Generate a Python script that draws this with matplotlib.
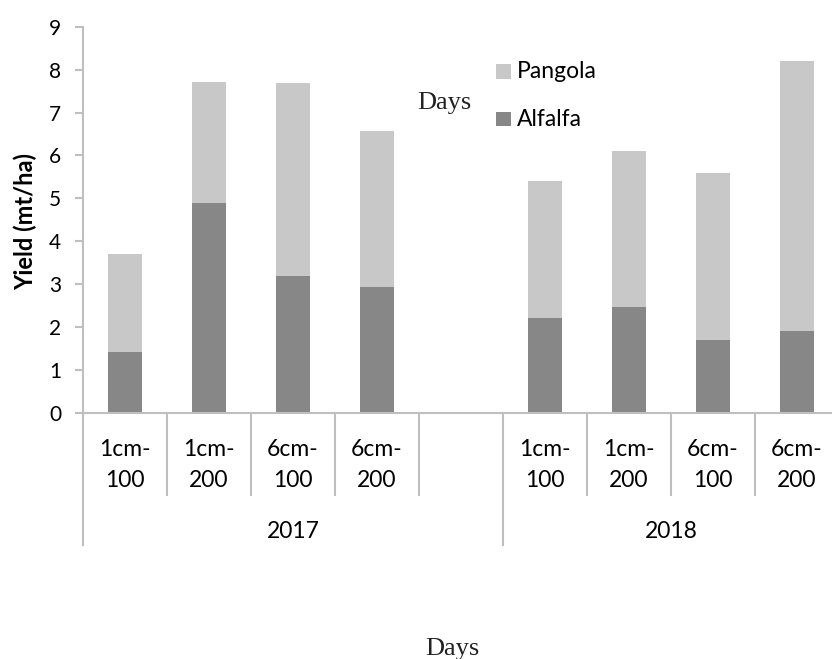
import matplotlib
matplotlib.use("Agg")
import matplotlib.pyplot as plt
from matplotlib.patches import Rectangle
from matplotlib.lines import Line2D
from matplotlib.transforms import blended_transform_factory

# Yield data (mt/ha)
years = ["2017", "2018"]
treatments = ["1cm-100", "1cm-200", "6cm-100", "6cm-200"]
alfalfa_2017 = [1.43, 4.89, 3.19, 2.94]
pangola_2017 = [2.27, 2.82, 4.50, 3.64]
alfalfa_2018 = [2.21, 2.46, 1.69, 1.91]
pangola_2018 = [3.20, 3.65, 3.90, 6.30]
yticks = list(range(0, 10))

PANGOLA_C = "#C8C8C8"
ALFALFA_C = "#878787"
AXIS_C = "#BFBFBF"

plt.rcParams["font.family"] = ["Lato", "DejaVu Sans"]

W, H = 832, 659
fig = plt.figure(figsize=(W / 100, H / 100), dpi=100)

def fx(px):
    return px / W

def fy(py):
    return 1 - py / H

# slot layout: 2017 group = 4 bars + one empty slot, 2018 group = 4 bars
x0, y_top = 83, 26.7
y0 = 413
ax = fig.add_axes([fx(x0), fy(y0), (839 - x0) / W, (y0 - y_top) / H])

x2017 = [0, 1, 2, 3]
x2018 = [5, 6, 7, 8]
bw = 0.40

ax.bar(x2017, alfalfa_2017, width=bw, color=ALFALFA_C, label="Alfalfa")
ax.bar(x2017, pangola_2017, width=bw, bottom=alfalfa_2017, color=PANGOLA_C, label="Pangola")
ax.bar(x2018, alfalfa_2018, width=bw, color=ALFALFA_C)
ax.bar(x2018, pangola_2018, width=bw, bottom=alfalfa_2018, color=PANGOLA_C)

ax.set_xlim(-0.5, 8.5)
ax.set_ylim(0, 9)
ax.set_yticks(yticks)
ax.set_xticks([])

for s in ["top", "right"]:
    ax.spines[s].set_visible(False)
for s in ["left", "bottom"]:
    ax.spines[s].set_color(AXIS_C)
    ax.spines[s].set_linewidth(1.5)

ax.tick_params(axis="y", direction="out", length=5.8, width=1.5, color=AXIS_C,
               labelsize=15, pad=10, labelcolor="black")

ax.set_ylabel("Yield (mt/ha)", fontsize=17, fontweight="bold")
ax.yaxis.label.set_va("center")
ax.yaxis.set_label_coords((25 - x0) / (839 - x0), (y0 - 222) / (y0 - y_top))

# multi-level category axis
tr = blended_transform_factory(ax.transData, fig.transFigure)
line_kw = dict(color=AXIS_C, lw=1.5, transform=tr, clip_on=False)

for xs in (x2017, x2018):
    for xi, lab in zip(xs, treatments):
        top, bottom = lab.split("-")
        ax.text(xi, fy(456), top + "-", transform=tr, ha="center", va="baseline",
                fontsize=16.5)
        ax.text(xi, fy(487), bottom, transform=tr, ha="center", va="baseline",
                fontsize=16.5)

inner = [0.5, 1.5, 2.5, 3.5, 5.5, 6.5, 7.5]
for b in inner:
    ax.add_line(Line2D([b, b], [fy(y0), fy(495)], **line_kw))
for b in [-0.5, 4.5, 8.5]:
    ax.add_line(Line2D([b, b], [fy(y0), fy(545)], **line_kw))

ax.text(2, fy(538), years[0], transform=tr, ha="center", va="baseline", fontsize=16.5)
ax.text(6.5, fy(538), years[1], transform=tr, ha="center", va="baseline", fontsize=16.5)

# legend
legend_items = [("Pangola", PANGOLA_C, 64, 78.3), ("Alfalfa", ALFALFA_C, 111.7, 126)]
for name, col, ytop, base in legend_items:
    fig.add_artist(Rectangle((fx(496), fy(ytop + 14.5)), 14.7 / W, 14.5 / H,
                             transform=fig.transFigure, color=col, lw=0))
    fig.text(fx(517), fy(base), name, ha="left", va="baseline", fontsize=16.5)

# axis captions
fig.text(fx(444), fy(109), "Days", ha="center", va="baseline", fontsize=19,
         family="Liberation Serif", color="#222222")
fig.text(fx(452), fy(655), "Days", ha="center", va="baseline", fontsize=19,
         family="Liberation Serif", color="#222222")

fig.savefig("out.png", dpi=100)
